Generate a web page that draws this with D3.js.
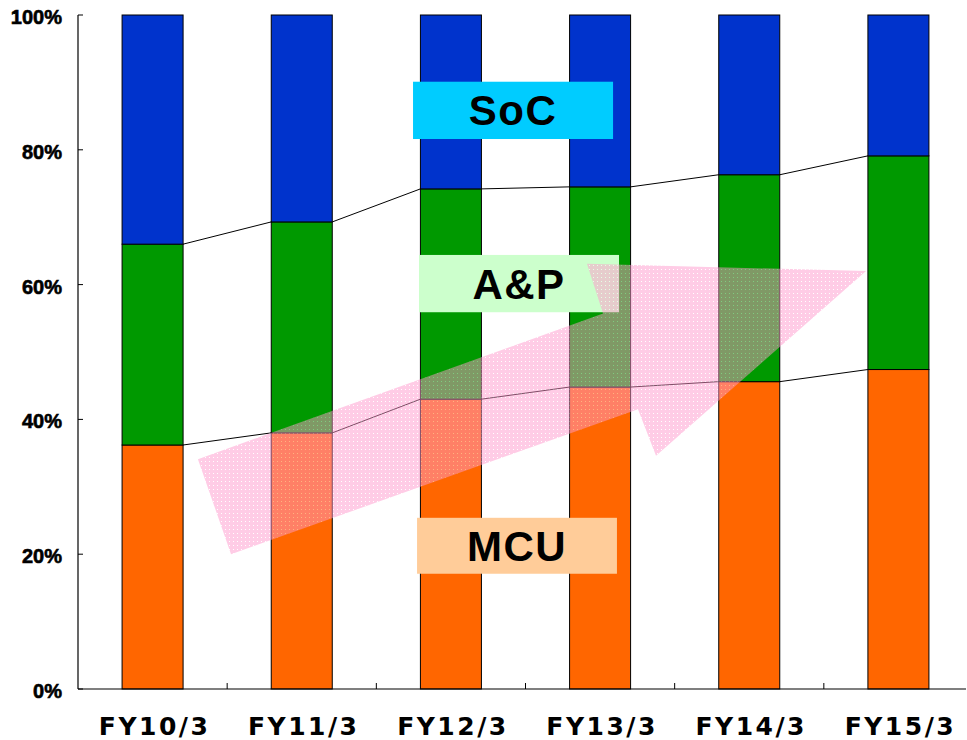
<!DOCTYPE html>
<html><head><meta charset="utf-8">
<script src="https://cdn.jsdelivr.net/npm/d3@7"></script>
<style>body{margin:0;background:#fff}svg{display:block}</style>
</head><body>
<svg id="c" width="967" height="740"></svg>
<script>
const categories = ["FY10/3","FY11/3","FY12/3","FY13/3","FY14/3","FY15/3"];
const mcu = [36.2, 38.0, 43.0, 44.8, 45.6, 47.4];
const ap  = [29.8, 31.3, 31.2, 29.7, 30.7, 31.7];
const soc = [34.0, 30.7, 25.8, 25.5, 23.7, 20.9];
const seriesNames = ["MCU","A&P","SoC"];
const seriesColors = ["#FF6600","#009900","#0033CC"];
const labelColors = ["#FFCC99","#CCFFCC","#00CCFF"];
const yTicks = [0,20,40,60,80,100];
// annotation arrow in (category index, percent) space
const arrowPts = [[1.026,20.0],[0.804,34.1],[3.520,55.7],[3.412,63.1],[5.283,62.0],[3.875,34.6],[3.754,41.5]];
// label boxes: [x0 idx, x1 idx, top pct, bottom pct]
const labelBoxes = [[2.273,3.613,25.4,17.1],[2.286,3.627,64.4,55.9],[2.246,3.587,90.1,81.6]];

const svg = d3.select("#c");
const L = 78, R = 973, T = 15, B = 689, AX_END = 966;
const x = d3.scaleBand().domain(categories).range([L,R]).paddingInner(0.591).paddingOuter(0.2955);
const xc = d3.scaleLinear().domain([0,6]).range([L,R]);
const y = d3.scaleLinear().domain([0,100]).range([B,T]);

const rows = categories.map((c,i)=>({cat:c, MCU:mcu[i], "A&P":ap[i], SoC:soc[i]}));
const stack = d3.stack().keys(seriesNames)(rows);

const defs = svg.append("defs");
const pat = defs.append("pattern").attr("id","dots").attr("width",4).attr("height",4).attr("patternUnits","userSpaceOnUse");
pat.append("rect").attr("width",4).attr("height",4).attr("fill","#FF99CC");
pat.append("rect").attr("x",1).attr("y",1).attr("width",1).attr("height",1).attr("fill","#ffffff");

// bars
stack.forEach((s,si)=>{
  svg.append("g").selectAll("rect").data(s).join("rect")
    .attr("x",d=>x(d.data.cat)).attr("width",x.bandwidth())
    .attr("y",d=>y(d[1])).attr("height",d=>y(d[0])-y(d[1]))
    .attr("fill",seriesColors[si]).attr("stroke","#000").attr("stroke-width",1);
});

// connecting lines
[0,1].forEach(si=>{
  const s = stack[si];
  for(let i=0;i<s.length-1;i++){
    svg.append("line")
      .attr("x1",x(categories[i])+x.bandwidth()).attr("y1",y(s[i][1]))
      .attr("x2",x(categories[i+1])).attr("y2",y(s[i+1][1]))
      .attr("stroke","#000").attr("stroke-width",1);
  }
});

// axes
svg.append("line").attr("x1",L).attr("x2",L).attr("y1",T).attr("y2",B).attr("stroke","#000").attr("stroke-width",1.2);
svg.append("line").attr("x1",L).attr("x2",AX_END).attr("y1",B).attr("y2",B).attr("stroke","#000").attr("stroke-width",1.2);
yTicks.forEach(t=>{
  svg.append("line").attr("x1",L).attr("x2",L+5).attr("y1",y(t)).attr("y2",y(t)).attr("stroke","#000");
  svg.append("text").attr("x",62).attr("y",y(t)+9).attr("text-anchor","end")
    .attr("font-family","Liberation Sans, Arial, sans-serif").attr("font-weight","bold").attr("font-size",20)
    .attr("stroke","#000").attr("stroke-width",0.6)
    .text(t+"%");
});
for(let i=1;i<=5;i++){
  svg.append("line").attr("x1",xc(i)).attr("x2",xc(i)).attr("y1",B).attr("y2",B-6).attr("stroke","#000");
}
categories.forEach(c=>{
  svg.append("text").attr("x",x(c)+x.bandwidth()/2+2).attr("y",735).attr("text-anchor","middle")
    .attr("font-family","DejaVu Sans, sans-serif").attr("font-weight","bold").attr("font-size",25)
    .attr("letter-spacing",2.5).text(c);
});

// label boxes
labelBoxes.forEach((b,i)=>{
  const g = svg.append("g");
  g.append("rect").attr("x",xc(b[0])).attr("y",y(b[2])).attr("width",xc(b[1])-xc(b[0])).attr("height",y(b[3])-y(b[2]))
    .attr("fill",labelColors[i]);
  g.append("text").attr("x",(xc(b[0])+xc(b[1]))/2).attr("y",(y(b[2])+y(b[3]))/2+15)
    .attr("text-anchor","middle").attr("font-family","Liberation Sans, Arial, sans-serif")
    .attr("font-weight","bold").attr("font-size",42).attr("letter-spacing",1.5).text(seriesNames[i]);
});

// arrow
svg.append("polygon").attr("points",arrowPts.map(p=>xc(p[0])+","+y(p[1])).join(" "))
  .attr("fill","url(#dots)").attr("opacity",0.5);
</script>
</body></html>
